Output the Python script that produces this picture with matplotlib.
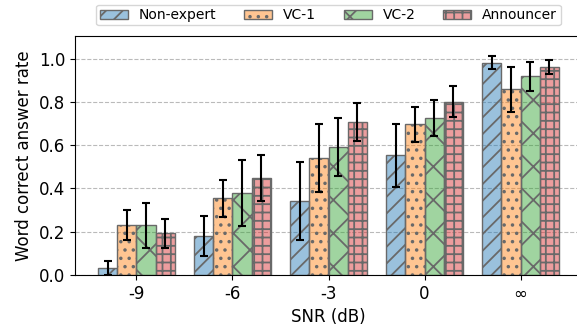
import matplotlib
matplotlib.use("Agg")
import matplotlib.pyplot as plt
import numpy as np

snr_labels = ["-9", "-6", "-3", "0", "∞"]
speakers = ["Non-expert", "VC-1", "VC-2", "Announcer"]

non_expert = [0.031, 0.182, 0.343, 0.553, 0.982]
vc1 = [0.230, 0.354, 0.542, 0.696, 0.858]
vc2 = [0.230, 0.380, 0.591, 0.725, 0.918]
announcer = [0.193, 0.447, 0.707, 0.802, 0.962]

non_expert_err = [0.032, 0.092, 0.180, 0.146, 0.030]
vc1_err = [0.070, 0.087, 0.158, 0.079, 0.103]
vc2_err = [0.103, 0.154, 0.135, 0.084, 0.069]
announcer_err = [0.067, 0.106, 0.087, 0.072, 0.032]

means = [non_expert, vc1, vc2, announcer]
errs = [non_expert_err, vc1_err, vc2_err, announcer_err]
colors = ["tab:blue", "tab:orange", "tab:green", "tab:red"]
hatches = ["//", "..", "x", "++"]

plt.rcParams["hatch.linewidth"] = 1.3

fig = plt.figure(figsize=(5.77, 3.27), dpi=100)
ax = fig.add_axes([75 / 577, 52 / 327, 507 / 577, 239 / 327])

x = np.arange(len(snr_labels))
width = 0.2
for i, (name, m, e) in enumerate(zip(speakers, means, errs)):
    pos = x + (i - 1.5) * width
    ax.bar(pos, m, width, color=matplotlib.colors.to_rgba(colors[i], 0.45),
           edgecolor="dimgray", linewidth=1.0, hatch=hatches[i], label=name,
           zorder=2)
    ax.errorbar(pos, m, yerr=e, fmt="none", ecolor="black", elinewidth=1.5,
                capsize=3, capthick=1.5, zorder=3)

ax.set_xticks(x)
ax.set_xticklabels(snr_labels, fontsize=12)
ax.set_ylim(0, 1.105)
ax.set_yticks([0.0, 0.2, 0.4, 0.6, 0.8, 1.0])
ax.tick_params(axis="y", labelsize=12)
ax.set_xlabel("SNR (dB)", fontsize=12)
ax.set_ylabel("Word correct answer rate", fontsize=12)
ax.yaxis.grid(True, linestyle="--", color="darkgray", alpha=0.8, zorder=0)
ax.set_axisbelow(True)
ax.spines["right"].set_visible(False)

ax.legend(loc="lower center", bbox_to_anchor=(0.5, 1.015), ncol=4, fontsize=10,
          borderpad=0.25, handleheight=0.6, columnspacing=2.0, frameon=True)

fig.savefig("out.png", dpi=100)
